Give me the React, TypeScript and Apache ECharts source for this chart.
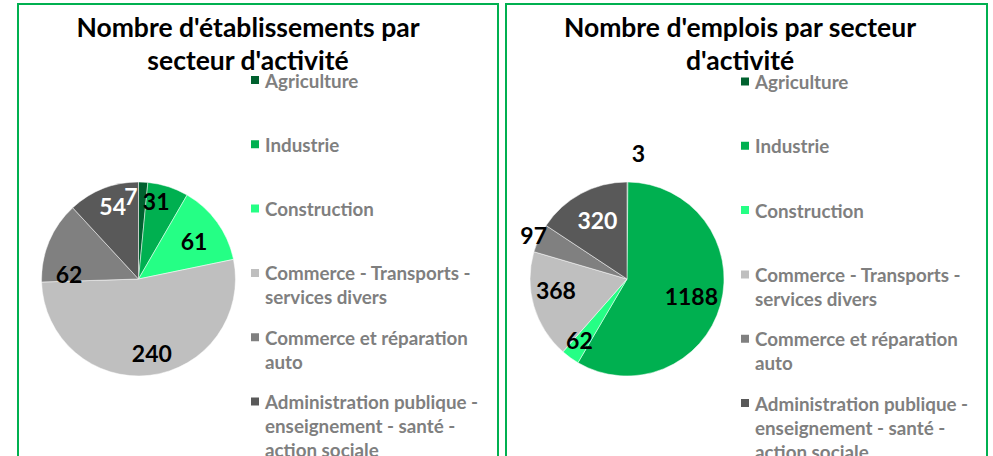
import React, { useEffect, useRef } from "react";
import * as echarts from "echarts";

const categories = [
  "Agriculture",
  "Industrie",
  "Construction",
  "Commerce - Transports - services divers",
  "Commerce et réparation auto",
  "Administration publique - enseignement - santé - action sociale",
];
const legendLabels = [
  "Agriculture",
  "Industrie",
  "Construction",
  "Commerce - Transports -\nservices divers",
  "Commerce et réparation\nauto",
  "Administration publique -\nenseignement - santé -\naction sociale",
];
const etablissements = [7, 31, 61, 240, 62, 54];
const emplois = [3, 1188, 62, 368, 97, 320];
const sliceColors = ["#00612f", "#00b050", "#25ff85", "#bfbfbf", "#808080", "#595959"];
const labelColorsLeft = ["#ffffff", "#000000", "#000000", "#000000", "#000000", "#ffffff"];
const labelColorsRight = ["#000000", "#000000", "#000000", "#000000", "#000000", "#ffffff"];
const titles = ["Nombre d'établissements par\nsecteur d'activité", "Nombre d'emplois par secteur\nd'activité"];

const FONT = "Lato, 'Open Sans', sans-serif";

export default function App() {
  const ref = useRef<HTMLDivElement>(null);
  useEffect(() => {
    document.body.style.margin = "0";
    const chart = echarts.init(ref.current!, undefined, { renderer: "svg" });
    const R = 97;
    const leftOffsets = [[-11, -12], [-4, -10], [-2, 3], [5, 4], [-4, 22], [0, -7]];
    const rightOffsets = [[11, -55], [-4, -2], [-6, 4], [-3, -9], [-29, -14], [4, 3]];

    const mainPie = (values: number[], cx: number) => ({
      type: "pie",
      center: [cx, 279],
      radius: [0, R],
      startAngle: 90,
      clockwise: true,
      silent: true,
      avoidLabelOverlap: false,
      label: { show: false },
      labelLine: { show: false },
      emphasis: { disabled: true },
      itemStyle: { borderColor: "#ffffff", borderWidth: 0.5 },
      data: values.map((v, i) => ({ name: categories[i], value: v, itemStyle: { color: sliceColors[i] } })),
    });
    const labelPie = (values: number[], cx: number, lc: string[], offs: number[][]) => ({
      type: "pie",
      center: [cx, 279],
      radius: [R * 0.4, R],
      startAngle: 90,
      clockwise: true,
      silent: true,
      avoidLabelOverlap: false,
      emphasis: { disabled: true },
      labelLine: { show: false },
      itemStyle: { color: "rgba(0,0,0,0)", borderWidth: 0 },
      label: {
        show: true,
        position: "inside",
        fontFamily: FONT,
        fontSize: 23,
        fontWeight: "bold",
        formatter: "{c}",
      },
      labelLayout: (p: any) => ({ dx: offs[p.dataIndex][0], dy: offs[p.dataIndex][1] }),
      data: values.map((v, i) => ({ name: categories[i], value: v, label: { color: lc[i] } })),
    });

    const iconPath = "path://M0,0h10v10h-10z M0,58h0.01v0.01h-0.01z";
    const padLines = (s: string) => {
      const n = s.split("\n").length;
      return s + "\n".repeat(3 - n);
    };
    const legend = (left: number, top: number) => ({
      orient: "vertical",
      left,
      top,
      height: 700,
      padding: 0,
      itemWidth: 10,
      itemHeight: 58,
      itemGap: -7.7,
      selectedMode: false,
      icon: iconPath,
      data: categories,
      formatter: (name: string) => padLines(legendLabels[categories.indexOf(name)]),
      textStyle: { color: "#7f7f7f", fontFamily: FONT, fontSize: 18.8, fontWeight: "bold", lineHeight: 24 },
    });
    const title = (text: string, left: number) => ({
      text,
      left,
      top: 10,
      padding: 0,
      textAlign: "center",
      textStyle: { color: "#000000", fontFamily: FONT, fontSize: 26.5, fontWeight: "bold", lineHeight: 33 },
    });

    chart.setOption({
      animation: false,
      backgroundColor: "#ffffff",
      title: [title(titles[0], 248), title(titles[1], 740)],
      legend: [legend(249, 68), legend(739, 69.5)],
      graphic: [
        { type: "rect", shape: { x: 18, y: 4, width: 480, height: 480 }, style: { fill: "none", stroke: "#00b050", lineWidth: 2 }, z: 10 },
        { type: "rect", shape: { x: 506, y: 4, width: 481, height: 480 }, style: { fill: "none", stroke: "#00b050", lineWidth: 2 }, z: 10 },
      ],
      series: [
        mainPie(etablissements, 138.5),
        mainPie(emplois, 627),
        labelPie(etablissements, 138.5, labelColorsLeft, leftOffsets),
        labelPie(emplois, 627, labelColorsRight, rightOffsets),
      ],
    });
    return () => chart.dispose();
  }, []);
  return <div ref={ref} style={{ width: 993, height: 456 }} />;
}
